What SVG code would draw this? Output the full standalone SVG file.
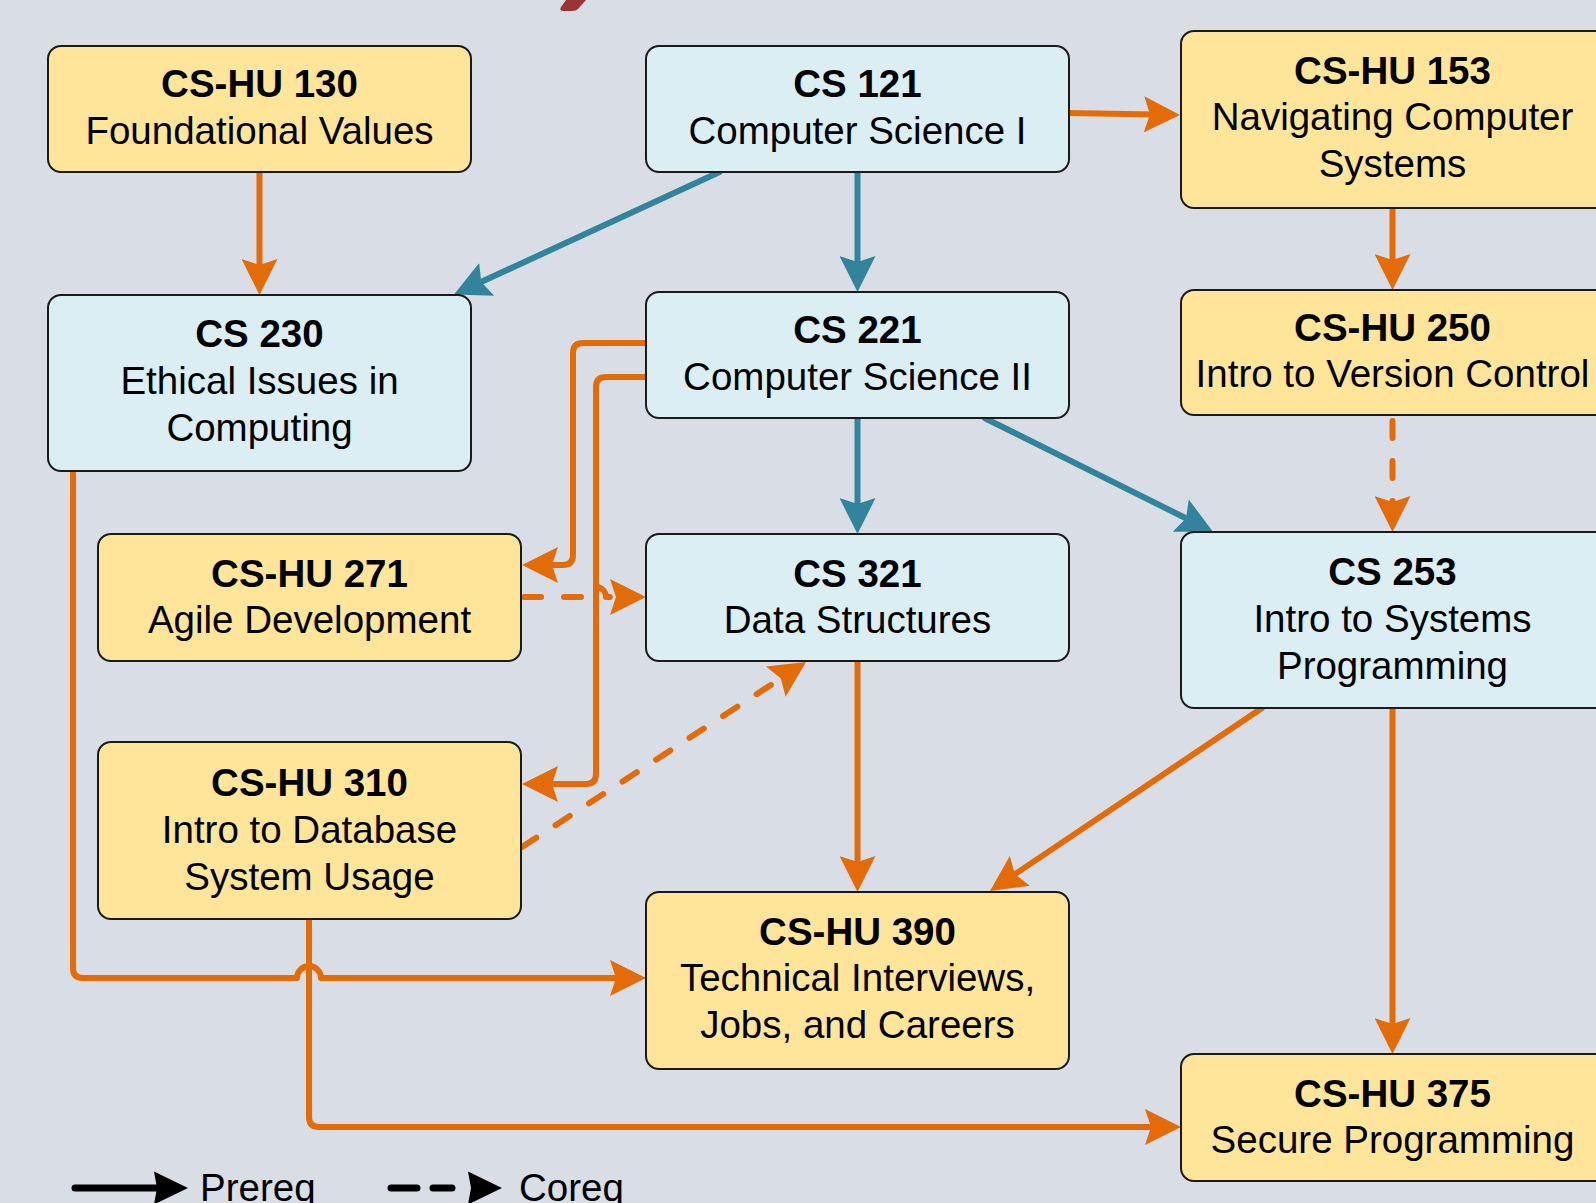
<svg xmlns="http://www.w3.org/2000/svg" width="1596" height="1203" viewBox="0 0 1596 1203">
<defs>
<style>
.bg{fill:#D8DDE6}
.y rect{fill:#FFE599;stroke:#1a1a1a;stroke-width:2}
.b rect{fill:#DAEEF3;stroke:#1a1a1a;stroke-width:2}
text{font-family:"Liberation Sans",Arial,sans-serif;font-size:38.5px;fill:#000;text-anchor:middle}
text.h{font-weight:bold}
.o{stroke:#E36C09;stroke-width:6;fill:none;stroke-linecap:round;stroke-linejoin:round;marker-end:url(#ao)}
.t{stroke:#31849B;stroke-width:6;fill:none;stroke-linecap:round;marker-end:url(#at)}
.d{stroke-dasharray:17 23}
.lg{stroke:#000;stroke-width:7;fill:none;stroke-linecap:round}
text.lt{text-anchor:start}
</style>
<marker id="ao" markerUnits="userSpaceOnUse" markerWidth="36" markerHeight="36" viewBox="0 0 36 36" refX="26" refY="18" orient="auto"><path d="M0,0 L36,18 L0,36 L6,18 Z" fill="#E36C09"/></marker>
<marker id="at" markerUnits="userSpaceOnUse" markerWidth="36" markerHeight="36" viewBox="0 0 36 36" refX="26" refY="18" orient="auto"><path d="M0,0 L36,18 L0,36 L6,18 Z" fill="#31849B"/></marker>
</defs>
<rect class="bg" x="0" y="0" width="1596" height="1203"/>
<path d="M566,0 L586,0 L578,9 Q576,11 572,11 L563,11 Q559,11 561,7 Z" fill="#9B3434"/>

<g id="connectors">
<path class="o" d="M259.5,172 L259.5,285"/>
<path class="t" d="M719.6,172 L463.1,290.3"/>
<path class="t" d="M857.5,172 L857.5,282"/>
<path class="o" d="M1067,113 L1170,114.8"/>
<path class="o" d="M1392.5,208 L1392.5,280"/>
<path class="o d" d="M1392.5,421 L1392.5,522"/>
<path class="t" d="M857.5,418 L857.5,524"/>
<path class="t" d="M985,418.3 L1204,527.2"/>
<path class="o" d="M646,343 L583,343 Q573,343 573,353 L573,555 Q573,565 563,565 L532,565"/>
<path class="o" d="M646,377 L606,377 Q596,377 596,387 L596,774 Q596,784 586,784 L532,784"/>
<path class="o d" d="M524,597 L586,597 A10,10 0 0 1 606,597 L636,597"/>
<path class="o d" d="M522,847 L797.6,667.5"/>
<path class="o" d="M857.5,661 L857.5,882"/>
<path class="o" d="M1261.7,708.3 L998.3,885.4"/>
<path class="o" d="M1392.5,708 L1392.5,1044"/>
<path class="o" d="M73,471 L73,968 Q73,978 83,978 L297,978 A12,12 0 0 1 321,978 L636,978"/>
<path class="o" d="M309,919 L309,1117 Q309,1127 319,1127 L1171,1127"/>
</g>

<g id="n130" class="y"><rect x="48" y="46" width="423" height="126" rx="13"/><text class="h" x="259.5" y="97">CS-HU 130</text><text x="259.5" y="143.5">Foundational Values</text></g>
<g id="n121" class="b"><rect x="646" y="46" width="423" height="126" rx="13"/><text class="h" x="857.5" y="97">CS 121</text><text x="857.5" y="143.5">Computer Science I</text></g>
<g id="n153" class="y"><rect x="1181" y="31" width="430" height="177" rx="13"/><text class="h" x="1392.5" y="83.5">CS-HU 153</text><text x="1392.5" y="130">Navigating Computer</text><text x="1392.5" y="176.7">Systems</text></g>
<g id="n230" class="b"><rect x="48" y="295" width="423" height="176" rx="13"/><text class="h" x="259.5" y="347.3">CS 230</text><text x="259.5" y="394">Ethical Issues in</text><text x="259.5" y="440.7">Computing</text></g>
<g id="n221" class="b"><rect x="646" y="292" width="423" height="126" rx="13"/><text class="h" x="857.5" y="343.2">CS 221</text><text x="857.5" y="390">Computer Science II</text></g>
<g id="n250" class="y"><rect x="1181" y="290" width="430" height="125" rx="13"/><text class="h" x="1392.5" y="340.5">CS-HU 250</text><text x="1392.5" y="387">Intro to Version Control</text></g>
<g id="n271" class="y"><rect x="98" y="534" width="423" height="127" rx="13"/><text class="h" x="309.5" y="586.5">CS-HU 271</text><text x="309.5" y="633.3">Agile Development</text></g>
<g id="n321" class="b"><rect x="646" y="534" width="423" height="127" rx="13"/><text class="h" x="857.5" y="586.5">CS 321</text><text x="857.5" y="633.3">Data Structures</text></g>
<g id="n253" class="b"><rect x="1181" y="532" width="430" height="176" rx="13"/><text class="h" x="1392.5" y="585.4">CS 253</text><text x="1392.5" y="632.1">Intro to Systems</text><text x="1392.5" y="678.8">Programming</text></g>
<g id="n310" class="y"><rect x="98" y="742" width="423" height="177" rx="13"/><text class="h" x="309.5" y="796">CS-HU 310</text><text x="309.5" y="842.8">Intro to Database</text><text x="309.5" y="889.5">System Usage</text></g>
<g id="n390" class="y"><rect x="646" y="892" width="423" height="177" rx="13"/><text class="h" x="857.5" y="944.7">CS-HU 390</text><text x="857.5" y="991.4">Technical Interviews,</text><text x="857.5" y="1038.1">Jobs, and Careers</text></g>
<g id="n375" class="y"><rect x="1181" y="1054" width="430" height="127" rx="13"/><text class="h" x="1392.5" y="1106.6">CS-HU 375</text><text x="1392.5" y="1153.3">Secure Programming</text></g>

<g id="legend">
<path class="lg" d="M75,1188 L158,1188"/>
<path d="M154,1171.5 L188,1188 L154,1204.5 L157,1188 Z" fill="#000"/>
<text class="lt" x="200" y="1201">Prereq</text>
<path class="lg" d="M391,1188 L417,1188 M433,1188 L452,1188"/>
<path d="M468,1171.5 L502,1188 L468,1204.5 L471,1188 Z" fill="#000"/>
<text class="lt" x="519" y="1201">Coreq</text>
</g>
</svg>
